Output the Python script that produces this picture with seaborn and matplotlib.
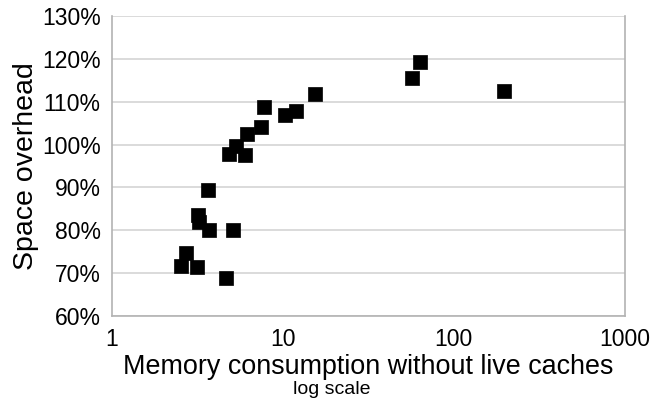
import matplotlib
matplotlib.use("Agg")
import matplotlib.pyplot as plt
import seaborn as sns
import pandas as pd
from matplotlib.ticker import FuncFormatter, FixedLocator, NullLocator

memory = [2.53, 2.71, 3.14, 3.18, 3.23, 3.69, 3.64, 5.10, 4.64,
          4.83, 5.31, 5.99, 6.16, 7.43, 7.74, 10.3, 11.9, 15.4,
          56.8, 63.3, 196.0]
overhead = [71.7, 74.7, 71.4, 83.6, 81.9, 80.1, 89.4, 80.1, 68.9,
            97.8, 99.7, 97.6, 102.5, 104.1, 108.8, 106.9, 107.8, 111.8,
            115.5, 119.3, 112.5]
y_ticks = [60, 70, 80, 90, 100, 110, 120, 130]
x_ticks = [1, 10, 100, 1000]

df = pd.DataFrame({"memory": memory, "overhead": overhead})

sns.set_theme(style="white")
plt.rcParams["font.family"] = ["Liberation Sans", "DejaVu Sans"]
plt.rcParams["text.color"] = "black"

fig = plt.figure(figsize=(6.5, 4.0), dpi=100)
ax = fig.add_axes([0.172, 0.21, 0.789, 0.75])

sns.scatterplot(data=df, x="memory", y="overhead", marker="s", s=110,
                color="black", edgecolor="black", linewidth=0.5, ax=ax, zorder=3)

ax.set_xscale("log")
ax.set_xlim(1, 1000)
ax.set_ylim(60, 130)
ax.xaxis.set_major_locator(FixedLocator(x_ticks))
ax.xaxis.set_minor_locator(NullLocator())
ax.xaxis.set_major_formatter(FuncFormatter(lambda v, p: f"{v:g}"))
ax.yaxis.set_major_locator(FixedLocator(y_ticks))
ax.yaxis.set_major_formatter(FuncFormatter(lambda v, p: f"{v:.0f}%"))

grid_c = "#d4d4d4"
ax.grid(axis="y", color=grid_c, linewidth=1.2)
ax.grid(axis="x", visible=False)
for side in ["left", "bottom", "right"]:
    ax.spines[side].set_color("#b3b3b3")
    ax.spines[side].set_linewidth(1.2)
ax.spines["top"].set_visible(False)

ax.tick_params(axis="both", which="major", direction="out", length=5,
               width=1.2, color="#b3b3b3", labelsize=16.5, labelcolor="black")
ax.tick_params(axis="x", pad=4)
ax.tick_params(axis="y", pad=3)

ax.set_ylabel("Space overhead", fontsize=20.5, color="black", labelpad=2)
ax.set_xlabel("Memory consumption without live caches", fontsize=19.4,
              color="black", labelpad=1.5)
fig.text(0.51, 0.027, "log scale", fontsize=14, ha="center", va="center",
         color="black")

fig.savefig("out.png", dpi=100)
